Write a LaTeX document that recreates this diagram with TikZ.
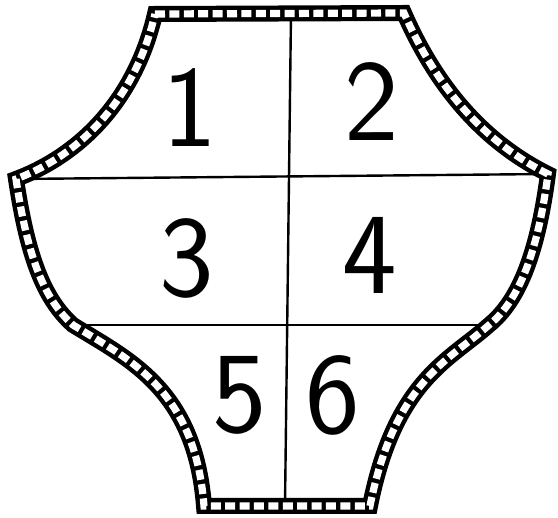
\documentclass[tikz,border=0pt]{standalone}
\usepackage{tikz}
\tikzset{every node/.append style={align=center}}
\tikzset{
  tilestrip/.style={draw=black, line width=8pt, line join=miter,
    postaction={draw=white, line width=3.6pt, dash pattern=on 5pt off 2.2pt}},
  divider/.style={draw=black, line width=1.2pt},
  region/.style={font=\sffamily\fontsize{58}{60}\selectfont}
}

\begin{document}
\begin{tikzpicture}[x=0.5pt, y=-0.5pt]
  \useasboundingbox (0,0) rectangle (558,518);

  % corners of the tile strip
  \coordinate (tl) at (155,14);
  \coordinate (tr) at (404,13);
  \coordinate (rc) at (548,174);
  \coordinate (rm) at (489,325);
  \coordinate (br) at (370,506);
  \coordinate (bl) at (204,506);
  \coordinate (lm) at (73,325);
  \coordinate (lc) at (16,179);
  \coordinate (top) at (291,13);
  \coordinate (bot) at (285,506);

  % Dividing lines
  \draw[divider] (lc) -- (rc);
  \draw[divider] (lm) -- (rm);
  \draw[divider] (top) -- (bot);

  % Tile border
  \path[tilestrip] (tl) -- (tr)
    .. controls (440,95) and (490,145) .. (rc)
    .. controls (538,250) and (520,300) .. (rm)
    .. controls (450,360) and (395,380) .. (br)
    -- (bl)
    .. controls (195,390) and (130,360) .. (lm)
    .. controls (45,300) and (28,260) .. (lc)
    .. controls (80,155) and (135,100) .. cycle;

  % Numbers
  \node[region] (n1) at (190,108) {1};
  \node[region] (n2) at (372,102) {2};
  \node[region] (n3) at (187,258) {3};
  \node[region] (n4) at (370,255) {4};
  \node[region] (n5) at (240,395) {5};
  \node[region] (n6) at (333,395) {6};

\end{tikzpicture}
\end{document}
